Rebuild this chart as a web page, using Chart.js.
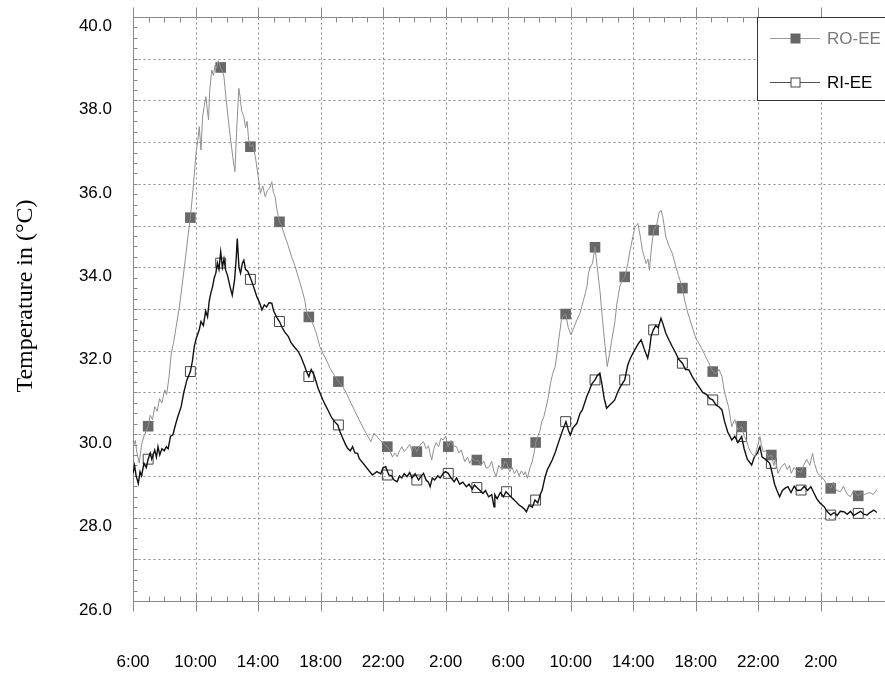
<!DOCTYPE html>
<html lang="en">
<head>
  <meta charset="UTF-8" />
  <title>RO-EE / RI-EE temperature</title>
  <style>
    body {
      margin: 0;
      padding: 0;
      background: #fff;
    }
  </style>
</head>
<body>
  <canvas id="chart" width="885" height="673"></canvas>

  <script src="https://cdn.jsdelivr.net/npm/chart.js"></script>
  <script>
    // hours counted from 6:00 of the first day
    const roHours = [
      0.00,0.15,0.25,0.40,0.55,0.70,0.97,1.10,1.25,1.39,
      1.55,1.70,1.85,2.03,2.15,2.30,2.45,2.60,2.75,2.97,
      3.15,3.35,3.50,3.67,3.85,4.03,4.15,4.24,4.35,4.45,
      4.55,4.66,4.75,4.83,4.92,5.04,5.15,5.25,5.34,5.45,
      5.61,5.72,5.82,5.95,6.10,6.25,6.40,6.52,6.62,6.77,
      6.85,6.95,7.09,7.20,7.30,7.40,7.51,7.65,7.83,8.00,
      8.15,8.30,8.46,8.60,8.75,8.88,8.98,9.09,9.20,9.37,
      9.50,9.73,9.90,10.15,10.35,10.57,10.75,10.99,11.10,11.25,
      11.45,11.73,11.95,12.15,12.40,12.65,12.90,13.14,13.40,13.70,
      13.95,14.20,14.47,14.80,15.21,15.42,16.00,16.27,16.45,16.60,
      16.75,16.90,17.05,17.20,17.35,17.53,17.70,17.85,18.00,18.16,
      18.30,18.45,18.59,18.75,18.90,19.00,19.11,19.25,19.40,19.55,
      19.70,19.85,20.00,20.17,20.35,20.50,20.70,20.85,21.00,21.22,
      21.40,21.55,21.70,21.90,22.07,22.25,22.45,22.60,22.80,22.95,
      23.10,23.23,23.40,23.60,23.80,23.92,24.10,24.25,24.40,24.55,
      24.70,24.85,25.00,25.10,25.23,25.40,25.55,25.65,25.76,25.90,
      26.05,26.15,26.29,26.40,26.55,26.71,26.85,27.00,27.13,27.25,
      27.41,27.55,27.68,27.85,28.02,28.20,28.40,28.60,28.82,28.95,
      29.05,29.14,29.25,29.40,29.56,29.70,29.87,30.00,30.15,30.34,
      30.50,30.65,30.82,30.95,31.14,31.30,31.46,31.66,31.80,31.98,
      32.10,32.30,32.45,32.60,32.83,32.95,33.04,33.15,33.31,33.50,
      33.65,33.78,33.90,34.09,34.30,34.51,34.70,34.90,35.15,35.30,
      35.50,35.78,36.00,36.20,36.40,36.63,36.85,37.09,37.30,37.50,
      37.68,37.85,38.10,38.31,38.50,38.70,38.94,39.10,39.25,39.37,
      39.55,39.79,39.95,40.11,40.20,40.32,40.50,40.65,40.84,41.00,
      41.10,41.27,41.45,41.69,41.85,42.00,42.11,42.30,42.50,42.74,
      42.90,43.10,43.30,43.48,43.60,43.80,44.00,44.22,44.40,44.64,
      44.80,45.00,45.27,45.45,45.70,45.91,46.10,46.30,46.44,46.60,
      46.80,46.96,47.15,47.35,47.49,47.60
    ];
    const roTemps = [
      29.70,29.85,29.55,29.31,29.75,29.95,30.19,30.45,30.35,30.66,
      30.55,30.85,30.75,31.06,30.95,31.35,31.94,32.20,32.55,33.05,
      33.60,34.20,34.70,35.19,35.90,36.73,37.05,37.37,36.81,37.60,
      37.85,38.09,37.80,37.53,38.30,38.73,38.60,38.85,38.77,38.95,
      38.79,38.70,38.57,38.05,37.53,37.05,36.60,36.29,37.20,38.29,
      38.10,37.75,37.61,37.35,37.50,37.05,36.89,36.95,36.65,36.20,
      35.77,35.95,35.69,35.85,35.90,36.05,35.80,35.69,35.40,35.09,
      35.00,34.73,34.55,34.25,34.05,33.77,33.55,33.21,32.95,32.81,
      32.70,32.42,32.10,31.94,31.75,31.55,31.40,31.26,31.15,30.95,
      30.74,30.55,30.34,30.10,29.82,30.02,29.78,29.70,29.60,29.45,
      29.55,29.46,29.60,29.70,29.58,29.66,29.75,29.60,29.72,29.58,
      29.70,29.78,29.82,29.65,29.72,29.55,29.38,29.65,29.80,29.70,
      29.90,29.86,29.95,29.70,29.85,29.72,29.70,29.55,29.62,29.34,
      29.45,29.30,29.42,29.35,29.38,29.25,29.35,29.18,29.22,29.35,
      29.10,28.98,29.25,29.15,29.35,29.30,29.10,29.20,29.05,29.15,
      29.00,29.12,29.02,29.10,28.94,29.20,29.35,29.54,29.79,29.95,
      30.10,30.30,30.42,30.60,30.85,31.22,31.45,31.60,31.94,32.30,
      32.74,32.85,32.88,32.55,32.38,32.55,32.74,32.90,33.21,33.40,
      33.55,33.86,34.00,34.10,34.48,34.00,33.45,32.90,32.30,31.62,
      31.95,32.30,32.66,33.10,33.53,33.70,33.77,34.09,34.40,34.73,
      34.95,35.05,34.75,34.40,34.09,34.20,33.93,34.40,34.89,35.00,
      35.30,35.37,35.20,34.73,34.50,34.33,34.05,33.80,33.50,33.20,
      32.90,32.57,32.30,32.18,32.05,31.86,31.70,31.50,31.45,31.55,
      31.38,31.00,30.66,30.18,30.35,30.10,30.19,29.95,29.85,29.70,
      29.55,29.46,29.70,29.94,29.75,29.58,29.60,29.45,29.50,29.25,
      29.40,29.06,29.20,29.30,29.15,29.25,29.06,29.20,29.12,29.08,
      29.25,29.40,29.25,29.54,29.30,29.06,29.00,28.90,28.80,28.70,
      28.85,28.65,28.62,28.75,28.55,28.50,28.65,28.55,28.52,28.60,
      28.55,28.58,28.60,28.55,28.62,28.68
    ];

    const riHours = [
      0.00,0.10,0.20,0.34,0.45,0.55,0.70,0.85,0.97,1.10,
      1.20,1.39,1.50,1.60,1.71,1.85,2.00,2.13,2.25,2.40,
      2.55,2.70,2.85,3.08,3.25,3.45,3.67,3.80,3.92,4.05,
      4.24,4.35,4.50,4.65,4.77,4.88,4.98,5.10,5.20,5.30,
      5.40,5.50,5.61,5.72,5.82,5.93,6.05,6.20,6.35,6.50,
      6.60,6.67,6.78,6.88,7.00,7.09,7.20,7.35,7.55,7.70,
      7.93,8.10,8.25,8.40,8.55,8.70,8.88,9.00,9.20,9.37,
      9.55,9.70,9.94,10.10,10.30,10.57,10.75,10.99,11.10,11.25,
      11.40,11.60,11.84,12.15,12.30,12.47,12.70,12.90,13.10,13.25,
      13.42,13.60,13.73,13.90,14.05,14.20,14.37,14.47,15.32,15.60,
      15.85,16.00,16.16,16.37,16.55,16.70,16.90,17.05,17.20,17.35,
      17.53,17.70,17.85,18.05,18.27,18.45,18.59,18.75,18.90,19.01,
      19.15,19.30,19.50,19.65,19.85,20.00,20.17,20.35,20.55,20.70,
      20.90,21.10,21.33,21.50,21.70,21.85,22.00,22.20,22.39,22.55,
      22.75,22.95,23.10,23.15,23.30,23.50,23.70,23.86,24.05,24.28,
      24.45,24.70,24.90,25.05,25.17,25.35,25.55,25.72,25.90,26.05,
      26.18,26.35,26.50,26.65,26.82,27.00,27.24,27.45,27.70,27.85,
      27.98,28.15,28.40,28.60,28.75,29.03,29.20,29.35,29.56,29.70,
      29.87,30.00,30.15,30.30,30.50,30.65,30.82,31.00,31.20,31.46,
      31.65,31.80,31.98,32.15,32.30,32.51,32.70,32.93,33.05,33.15,
      33.29,33.45,33.60,33.78,33.90,34.09,34.30,34.50,34.73,34.90,
      35.15,35.35,35.57,35.78,36.00,36.20,36.45,36.70,36.90,37.09,
      37.30,37.50,37.68,37.85,38.05,38.31,38.50,38.70,38.94,39.10,
      39.30,39.58,39.75,39.95,40.11,40.25,40.45,40.74,40.90,41.05,
      41.20,41.37,41.55,41.70,41.90,42.10,42.30,42.50,42.74,42.95,
      43.15,43.37,43.55,43.75,43.95,44.22,44.40,44.64,44.85,45.05,
      45.25,45.48,45.70,45.90,46.10,46.33,46.55,46.75,46.96,47.15,
      47.39,47.60
    ];
    const riTemps = [
      29.06,29.25,29.00,28.82,29.10,29.00,29.30,29.20,29.40,29.55,
      29.40,29.62,29.45,29.70,29.50,29.65,29.60,29.70,29.65,29.95,
      29.98,30.20,30.40,30.66,31.00,31.30,31.50,31.75,32.10,32.30,
      32.50,32.70,32.60,32.95,32.81,33.20,33.38,33.55,33.75,33.86,
      34.10,33.95,34.37,34.00,34.20,33.93,33.80,33.55,33.33,33.70,
      34.20,34.69,34.00,33.86,34.10,34.17,33.95,33.90,33.71,33.55,
      33.29,33.15,32.98,33.10,33.05,33.15,33.14,32.95,32.80,32.70,
      32.55,32.45,32.34,32.20,32.10,31.98,31.85,31.62,31.50,31.38,
      31.55,31.40,31.10,30.82,30.70,30.58,30.40,30.30,30.22,30.05,
      29.90,29.75,29.66,29.60,29.70,29.55,29.54,29.42,29.02,29.10,
      29.05,29.20,29.22,29.02,29.00,28.90,28.86,29.00,28.95,29.05,
      28.98,29.08,28.95,29.05,28.90,29.00,29.06,28.90,28.85,28.74,
      28.95,28.90,29.00,28.95,29.06,29.10,29.06,28.95,28.86,28.95,
      28.80,28.85,28.74,28.80,28.68,28.78,28.72,28.65,28.58,28.65,
      28.50,28.55,28.26,28.55,28.45,28.60,28.50,28.62,28.55,28.46,
      28.40,28.30,28.25,28.20,28.14,28.30,28.25,28.42,28.35,28.55,
      28.66,28.95,29.14,29.25,29.38,29.55,29.82,30.05,30.30,30.10,
      29.98,30.15,30.26,30.50,30.58,30.90,31.05,31.20,31.30,31.40,
      31.46,31.20,30.85,30.62,30.70,30.75,30.82,31.00,31.15,31.30,
      31.65,31.80,31.94,32.05,32.15,32.26,32.05,31.82,32.05,32.35,
      32.50,32.60,32.55,32.78,32.65,32.42,32.25,32.10,31.94,31.80,
      31.70,31.55,31.54,31.38,31.25,31.14,31.00,30.95,30.85,30.82,
      30.70,30.65,30.58,30.30,30.05,29.86,29.95,29.80,29.94,29.65,
      29.40,29.26,29.45,29.55,29.70,29.45,29.40,29.30,29.05,28.80,
      28.65,28.50,28.65,28.70,28.74,28.60,28.75,28.65,28.66,28.75,
      28.65,28.74,28.60,28.45,28.35,28.26,28.15,28.06,28.12,28.05,
      28.15,28.14,28.08,28.15,28.05,28.10,28.15,28.08,28.06,28.12,
      28.18,28.12
    ];

    // marker positions (same times for both series)
    const markerHours = [0.97,3.67,5.61,7.51,9.37,11.25,13.14,16.27,18.16,20.17,22.0,23.9,
                         25.76,27.68,29.56,31.46,33.31,35.15,37.09,38.94,40.84,42.74,44.64,46.4];
    const roMarkerTemps = [30.19,35.19,38.79,36.89,35.09,32.81,31.26,29.70,29.58,29.70,29.38,29.30,
                           29.80,32.88,34.48,33.77,34.89,33.50,31.50,30.19,29.50,29.08,28.70,28.52];
    const riMarkerTemps = [29.40,31.50,34.10,33.71,32.70,31.38,30.22,29.02,28.90,29.06,28.72,28.62,
                           28.42,30.30,31.30,31.30,32.50,31.70,30.82,29.94,29.30,28.66,28.06,28.10];

    const clockLabels = ["6:00","10:00","14:00","18:00","22:00","2:00","6:00","10:00","14:00","18:00","22:00","2:00"];
    const seriesNames = ["RO-EE", "RI-EE"];
    const yTitle = "Temperature in (°C)";

    const xMin = 0, xMax = 47.6, yMin = 26, yMax = 40;

    function pairs(xs, ys) {
      if (xs.length !== ys.length) console.error("length mismatch", xs.length, ys.length);
      return xs.map((x, i) => ({ x: x, y: ys[i] }));
    }

    const axisColor = "#8a8a8a";
    const gridColor = "#8a8a8a";

    // axes frame, dotted grid, inner tick marks, axis title and legend
    const framePlugin = {
      id: "frame",
      beforeDatasetsDraw(chart) {
        const ctx = chart.ctx;
        const xs = chart.scales.x, ys = chart.scales.y;
        const a = chart.chartArea;
        const L = Math.round(a.left) + 0.5, B = Math.round(a.bottom) + 0.5, T = Math.round(a.top) + 0.5;
        const R = chart.width;
        ctx.save();
        ctx.lineWidth = 1;

        // dotted grid
        ctx.strokeStyle = gridColor;
        ctx.setLineDash([2, 3]);
        for (let v = yMin + 1; v < yMax; v++) {
          const y = Math.round(ys.getPixelForValue(v)) + 0.5;
          ctx.beginPath(); ctx.moveTo(L, y); ctx.lineTo(R, y); ctx.stroke();
        }
        for (let h = 4; h < xMax; h += 4) {
          const x = Math.round(xs.getPixelForValue(h)) + 0.5;
          ctx.beginPath(); ctx.moveTo(x, T); ctx.lineTo(x, B); ctx.stroke();
        }
        ctx.setLineDash([]);

        // frame lines
        ctx.strokeStyle = axisColor;
        ctx.beginPath();
        ctx.moveTo(L, T - 10); ctx.lineTo(L, B + 10);
        ctx.moveTo(L, B); ctx.lineTo(R, B);
        ctx.moveTo(L, T); ctx.lineTo(R, T);
        ctx.stroke();

        // y minor ticks
        ctx.beginPath();
        for (let v = yMin; v <= yMax; v += 0.25) {
          const y = Math.round(ys.getPixelForValue(v)) + 0.5;
          ctx.moveTo(L, y); ctx.lineTo(L + 4, y);
        }
        // x ticks, bottom and top
        for (let h = 1; h < xMax; h++) {
          const x = Math.round(xs.getPixelForValue(h)) + 0.5;
          if (h % 4 === 0) {
            ctx.moveTo(x, B - 8); ctx.lineTo(x, B + 10);
            ctx.moveTo(x, T - 10); ctx.lineTo(x, T + 2);
          } else {
            ctx.moveTo(x, B); ctx.lineTo(x, B - 5);
            ctx.moveTo(x, T); ctx.lineTo(x, T + 5);
          }
        }
        ctx.stroke();

        // y axis title
        ctx.translate(26, 296);
        ctx.rotate(-Math.PI / 2);
        ctx.fillStyle = "#000";
        ctx.font = "24px 'Liberation Serif', 'Times New Roman', serif";
        ctx.textAlign = "center";
        ctx.textBaseline = "middle";
        ctx.fillText(yTitle, 0, 0);
        ctx.restore();
      },
      afterDatasetsDraw(chart) {
        const ctx = chart.ctx;
        const bx = 757.5, by = Math.round(chart.chartArea.top) + 0.5;
        ctx.save();
        ctx.fillStyle = "#fff";
        ctx.fillRect(bx, by, chart.width - bx + 5, 83);
        ctx.strokeStyle = "#333";
        ctx.lineWidth = 1;
        ctx.strokeRect(bx, by, chart.width - bx + 5, 83);

        const rows = [
          { y: by + 21, line: "#9a9a9a", text: "#7a7a7a", filled: true },
          { y: by + 65, line: "#555", text: "#000", filled: false }
        ];
        ctx.font = "17px 'Liberation Sans', Arial, sans-serif";
        ctx.textBaseline = "middle";
        rows.forEach((r, i) => {
          ctx.strokeStyle = r.line;
          ctx.beginPath(); ctx.moveTo(770, r.y); ctx.lineTo(820, r.y); ctx.stroke();
          if (r.filled) {
            ctx.fillStyle = "#666";
            ctx.fillRect(790.5, r.y - 5, 10, 10);
          } else {
            ctx.fillStyle = "#fff";
            ctx.fillRect(791, r.y - 4.5, 9, 9);
            ctx.strokeStyle = "#444";
            ctx.strokeRect(791, r.y - 4.5, 9, 9);
          }
          ctx.fillStyle = r.text;
          ctx.fillText(seriesNames[i], 827, r.y + 1);
        });
        ctx.restore();
      }
    };

    new Chart(document.getElementById("chart"), {
      type: "scatter",
      data: {
        datasets: [
          {
            label: seriesNames[0],
            data: pairs(roHours, roTemps),
            showLine: true,
            borderColor: "#8f8f8f",
            borderWidth: 1,
            pointRadius: 0,
            tension: 0
          },
          {
            label: seriesNames[1],
            data: pairs(riHours, riTemps),
            showLine: true,
            borderColor: "#111",
            borderWidth: 1.4,
            pointRadius: 0,
            tension: 0
          },
          {
            label: seriesNames[0] + " markers",
            data: pairs(markerHours, roMarkerTemps),
            showLine: false,
            pointStyle: "rect",
            pointRadius: 7.5,
            pointBackgroundColor: "#686868",
            pointBorderColor: "#686868",
            pointBorderWidth: 0
          },
          {
            label: seriesNames[1] + " markers",
            data: pairs(markerHours, riMarkerTemps),
            showLine: false,
            pointStyle: "rect",
            pointRadius: 7,
            pointBackgroundColor: "rgba(0,0,0,0)",
            pointBorderColor: "#444",
            pointBorderWidth: 1
          }
        ]
      },
      options: {
        responsive: false,
        animation: false,
        layout: { padding: { top: 17, right: 0, left: 0, bottom: 0 } },
        plugins: {
          legend: { display: false },
          tooltip: { enabled: false }
        },
        scales: {
          x: {
            type: "linear",
            min: xMin,
            max: xMax,
            afterFit: (s) => { s.height = 72; s.paddingLeft = 0; s.paddingRight = 0; },
            afterBuildTicks: (s) => {
              s.ticks = clockLabels.map((lab, i) => ({ value: i * 4 }));
            },
            grid: { display: false, drawTicks: false },
            border: { display: false },
            ticks: {
              padding: 51,
              maxRotation: 0,
              autoSkip: false,
              color: "#000",
              font: { family: "'Liberation Sans', Arial, sans-serif", size: 17 },
              callback: (v) => clockLabels[Math.round(v / 4)]
            }
          },
          y: {
            min: yMin,
            max: yMax,
            afterFit: (s) => { s.width = 133; s.paddingTop = 0; s.paddingBottom = 0; },
            grid: { display: false, drawTicks: false },
            border: { display: false },
            ticks: {
              stepSize: 2,
              padding: 21,
              labelOffset: 9,
              color: "#000",
              font: { family: "'Liberation Sans', Arial, sans-serif", size: 17 },
              callback: (v) => v.toFixed(1)
            }
          }
        }
      },
      plugins: [framePlugin]
    });
  </script>
</body>
</html>
